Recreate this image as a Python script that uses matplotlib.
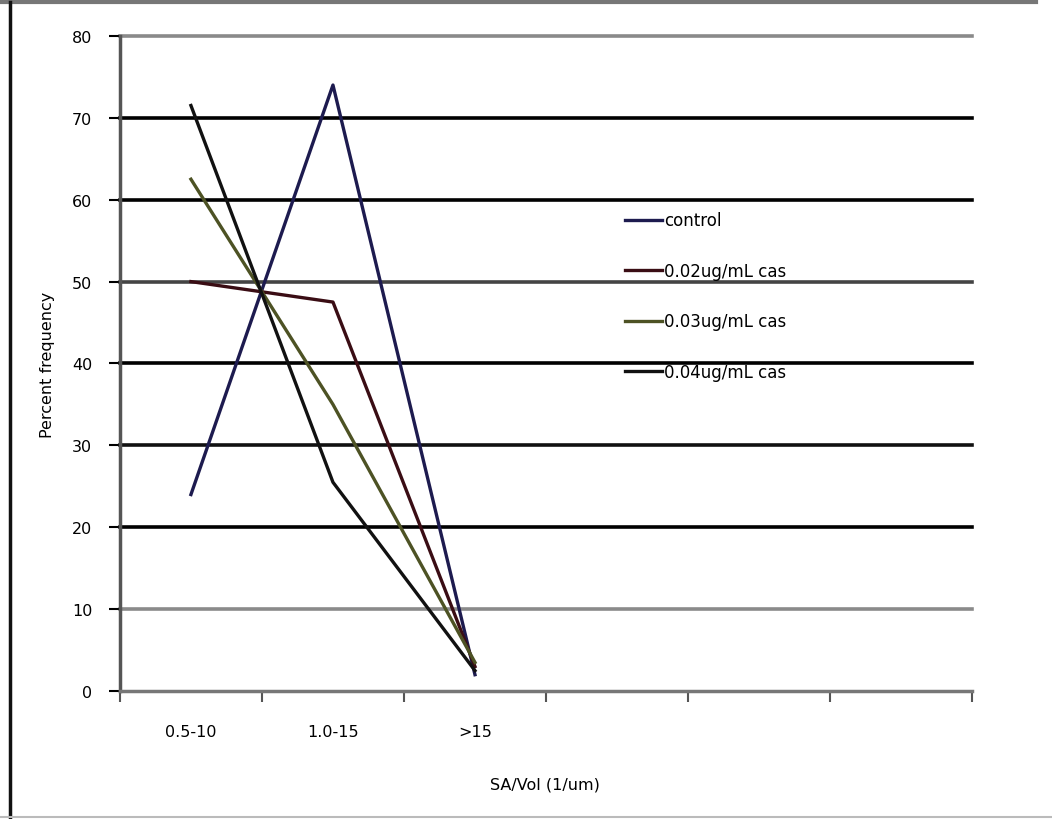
import matplotlib
matplotlib.use("Agg")
import matplotlib.pyplot as plt
from matplotlib.lines import Line2D

categories = ["0.5-10", "1.0-15", ">15"]
control = [24, 74, 2]
cas_002 = [50, 47.5, 3]
cas_003 = [62.5, 35, 3.5]
cas_004 = [71.5, 25.5, 2.5]
series_labels = ["control", "0.02ug/mL cas", "0.03ug/mL cas", "0.04ug/mL cas"]
series_colors = ["#1d1b4f", "#3a0d14", "#4d5224", "#111111"]
yticks = [0, 10, 20, 30, 40, 50, 60, 70, 80]

fig = plt.figure(figsize=(10.52, 8.2), dpi=100)
ax = fig.add_axes([0.114, 0.156, 0.81, 0.799])

grid_colors = {10: "#8a8a8a", 20: "#000000", 30: "#111111", 40: "#000000",
               50: "#444444", 60: "#000000", 70: "#000000", 80: "#8a8a8a"}
for v in yticks[1:]:
    ax.axhline(v, color=grid_colors[v], lw=2.6, zorder=1, clip_on=False)

xpos = [i + 0.5 for i in range(len(categories))]
for vals, lab, col in zip([control, cas_002, cas_003, cas_004], series_labels, series_colors):
    ax.plot(xpos, vals, color=col, lw=2.4, label=lab, zorder=3)

ax.set_xlim(0, 6)
ax.set_ylim(0, 80)
ax.set_yticks(yticks)
ax.set_yticklabels([str(v) for v in yticks], fontsize=11.5)
ax.set_xticks(range(0, 7))
ax.set_xticklabels([""] * 7)
ax.set_xticks(xpos, minor=True)
ax.set_xticklabels(categories, minor=True, fontsize=11.5)
ax.tick_params(axis="x", which="minor", length=0, pad=24)
ax.tick_params(axis="x", which="major", length=8, width=1.5, color="#555555", direction="out")
ax.tick_params(axis="y", length=8, width=1.5, color="#000000", direction="out", pad=12)

for s in ["top", "right"]:
    ax.spines[s].set_visible(False)
ax.spines["left"].set_color("#555555")
ax.spines["left"].set_linewidth(2.5)
ax.spines["bottom"].set_color("#777777")
ax.spines["bottom"].set_linewidth(2.5)

ax.set_ylabel("Percent frequency", fontsize=11.5, labelpad=12)
fig.text(0.518, 0.043, "SA/Vol (1/um)", fontsize=11.5, ha="center", va="center")

ax.legend(loc="upper left", bbox_to_anchor=(0.575, 0.755), frameon=False,
          fontsize=12, handlelength=2.2, handletextpad=0.15, labelspacing=1.95)

# outer figure frame
fig.add_artist(Line2D([0.0, 0.985], [0.996, 0.996], color="#777777", lw=3, transform=fig.transFigure))
fig.add_artist(Line2D([0.0095, 0.0095], [0.0, 0.996], color="#111111", lw=2.5, transform=fig.transFigure))
fig.add_artist(Line2D([0.0, 1.0], [0.003, 0.003], color="#bbbbbb", lw=1.5, transform=fig.transFigure))

fig.savefig("out.png", dpi=100)
